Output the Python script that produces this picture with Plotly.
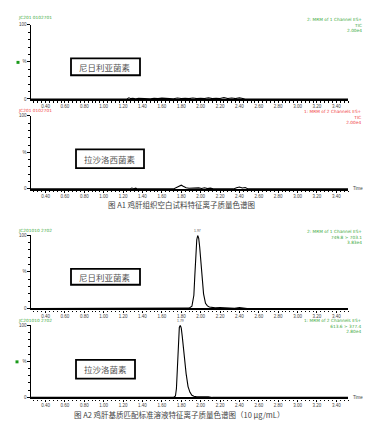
import plotly.graph_objects as go

W, H = 371, 428

# ---------------- data ----------------
tick_labels = ["0.40", "0.60", "0.80", "1.00", "1.20", "1.40", "1.60", "1.80", "2.00",
               "2.20", "2.40", "2.60", "2.80", "3.00", "3.20", "3.40"]

# Panel 1: blank, nigericin channel
t1 = [0.25, 1.24, 1.26, 1.28, 1.30, 1.33, 1.36, 1.40, 1.44, 1.48, 1.52, 1.56, 1.60, 1.64,
      1.68, 1.72, 1.76, 1.80, 1.84, 1.88, 1.92, 1.96, 2.00, 2.04, 2.08, 2.12, 2.16, 2.20,
      2.24, 2.28, 2.32, 2.36, 2.40, 2.44, 2.46, 3.52]
y1 = [0, 0, 1.5, 0.4, 1.0, 0.3, 0.8, 0.5, 1.2, 0.3, 0.9, 0.4, 1.1, 0.5, 0.8, 0.3, 1.3,
      0.6, 1.0, 0.4, 1.2, 0.5, 0.9, 0.6, 1.4, 0.5, 1.0, 0.7, 1.8, 0.6, 1.2, 0.5, 1.5,
      0.4, 0, 0]

# Panel 2: blank, lasalocid channel
t2 = [0.25, 1.27, 1.29, 1.31, 1.33, 1.35, 1.72, 1.75, 1.78, 1.80, 1.82, 1.85, 1.88, 1.92,
      1.95, 1.98, 2.01, 2.04, 2.07, 2.10, 2.13, 2.34, 2.37, 2.40, 2.43, 2.46, 2.49, 3.52]
y2 = [0, 0, 1.2, 0.3, 1.0, 0, 0, 2.0, 4.5, 5.0, 3.5, 1.5, 0.8, 1.2, 0.5, 1.4, 0.6, 1.5,
      0.4, 1.0, 0, 0, 1.5, 2.5, 1.2, 1.8, 0, 0]

# Panel 3: matrix standard, nigericin channel
t3 = [0.25, 1.28, 1.30, 1.33, 1.36, 1.40, 1.70, 1.74, 1.78, 1.82, 1.88, 1.91, 1.93, 1.94,
      1.95, 1.96, 1.97, 1.98, 1.99, 2.01, 2.03, 2.05, 2.07, 2.09, 2.12, 2.15, 2.20, 2.25,
      2.30, 2.35, 2.40, 2.45, 2.48, 3.52]
y3 = [0, 0, 1.0, 0.3, 0.8, 0, 0, 0.8, 0.3, 1.0, 0.5, 3, 18, 45, 75, 94, 100, 96, 84, 48,
      20, 7, 3.5, 2.0, 1.5, 0.8, 1.2, 0.6, 1.0, 0.4, 1.1, 0.3, 0, 0]

# Panel 4: matrix standard, lasalocid channel
t4 = [0.25, 1.72, 1.74, 1.75, 1.76, 1.77, 1.78, 1.79, 1.80, 1.81, 1.83, 1.85, 1.87, 1.89,
      1.91, 1.93, 1.96, 2.00, 2.04, 2.08, 2.12, 3.52]
y4 = [0, 0, 2, 12, 40, 75, 97, 100, 96, 85, 58, 33, 15, 7, 3, 1.5, 0.8, 1.0, 0.4, 0.8, 0, 0]

peak3_label, peak3_t = "1.97", 1.97
peak4_label, peak4_t = "1.79", 1.79

left_ids = ["JC201 0102701", "JC201 0102701", "JC201010 2702", "JC201010 2702"]
right_info = [
    ["2: MRM of 1 Channel ES+", "TIC", "2.00e4"],
    ["1: MRM of 2 Channels ES+", "TIC", "2.00e4"],
    ["2: MRM of 1 Channel ES+", "749.8 > 703.1", "3.83e4"],
    ["1: MRM of 2 Channels ES+", "613.6 > 377.4", "2.80e4"],
]
compounds = ["尼日利亚菌素", "拉沙洛西菌素", "尼日利亚菌素", "拉沙洛菌素"]
captions = ["图 A1 鸡肝组织空白试料特征离子质量色谱图",
            "图 A2 鸡肝基质匹配标准溶液特征离子质量色谱图（10 μg/mL）"]

# ---------------- layout helpers ----------------
def px(x):
    return x / W

def py(y):
    return 1 - y / H

GREEN = "#3aa83a"
RED = "#f04040"
colors = [GREEN, RED, GREEN, GREEN]
tops = [15, 107, 228, 319]
bottoms = [90, 181, 302, 392]
x_left, x_right = 23, 340
boxes = [(63, 49, 132, 66), (68, 141, 136, 160), (63, 262, 132, 278), (68, 354, 127, 373)]

fig = go.Figure()
series = [(t1, y1), (t2, y2), (t3, y3), (t4, y4)]
tickvals = [float(s) for s in tick_labels]

layout = dict(
    width=W, height=H, margin=dict(l=0, r=0, t=0, b=0),
    paper_bgcolor="white", plot_bgcolor="white", showlegend=False,
    font=dict(family="Liberation Sans, Arial", size=5, color="#333"),
)
for i, (t, y) in enumerate(series):
    n = "" if i == 0 else str(i + 1)
    fig.add_trace(go.Scatter(x=t, y=y, mode="lines", line=dict(color="black", width=1.1),
                             xaxis="x" + n, yaxis="y" + n, hoverinfo="skip"))
    layout["xaxis" + n] = dict(
        domain=[px(x_left), px(x_right)], range=[0.25, 3.52], anchor="y" + n,
        tickmode="array", tickvals=tickvals, ticktext=tick_labels,
        ticks="outside", ticklen=2, tickwidth=1, tickcolor="black",
        minor=dict(tickmode="linear", tick0=0.4, dtick=0.04, ticks="outside",
                   ticklen=1.5, tickcolor="black", showgrid=False),
        showline=True, linecolor="black", linewidth=2.2, showgrid=False, zeroline=False,
        tickfont=dict(size=4.5, color="#444"), fixedrange=True,
    )
    layout["yaxis" + n] = dict(
        domain=[py(bottoms[i]), py(tops[i])], range=[0, 100], anchor="x" + n,
        tickmode="array", tickvals=[0, 50, 100], ticktext=["0", "%", "100"],
        ticks="outside", ticklen=2.5, tickwidth=1, tickcolor="black",
        minor=dict(tickmode="linear", tick0=0, dtick=10, ticks="outside",
                   ticklen=1.5, tickcolor="black", showgrid=False),
        showline=True, linecolor="black", linewidth=1.3, showgrid=False, zeroline=False,
        tickfont=dict(size=4.5, color="#444"), fixedrange=True,
    )
fig.update_layout(**layout)

ann = []
shapes = []
right_top = [5.5, 98, 220, 310]
left_y = [8, 101.5, 223, 314]
HDR_FONT = "DejaVu Sans"
for i in range(4):
    ann.append(dict(x=px(8), y=py(left_y[i]), xref="paper", yref="paper", text=left_ids[i],
                    showarrow=False, xanchor="left", yanchor="middle",
                    font=dict(size=4.3, color=colors[i], family=HDR_FONT)))
    ann.append(dict(x=px(356), y=py(right_top[i]), xref="paper", yref="paper",
                    text="<br>".join(right_info[i]), align="right",
                    showarrow=False, xanchor="right", yanchor="top",
                    font=dict(size=4.3, color=colors[i], family=HDR_FONT)))
    x0, y0, x1, y1b = boxes[i]
    shapes.append(dict(type="rect", xref="paper", yref="paper", x0=px(x0), x1=px(x1),
                       y0=py(y1b), y1=py(y0), line=dict(color="black", width=1.8),
                       fillcolor="white", layer="above"))
    ann.append(dict(x=px((x0 + x1) / 2), y=py((y0 + y1b) / 2), xref="paper", yref="paper",
                    text=compounds[i], showarrow=False, xanchor="center", yanchor="middle",
                    font=dict(size=8.5, color="#555", family="Noto Sans CJK SC")))

# peak labels
ann.append(dict(x=peak3_t, y=100, xref="x3", yref="y3", text=peak3_label, showarrow=False,
                yanchor="bottom", yshift=0, font=dict(size=3.5, color="#555")))
ann.append(dict(x=peak4_t, y=100, xref="x4", yref="y4", text=peak4_label, showarrow=False,
                yanchor="bottom", yshift=0, font=dict(size=3.5, color="#555")))

# Time labels
for yy in (181, 392):
    ann.append(dict(x=px(343), y=py(yy), xref="paper", yref="paper", text="Time",
                    showarrow=False, xanchor="left", yanchor="middle",
                    font=dict(size=4.5, color="#444")))

# captions
ann.append(dict(x=px(173), y=py(197), xref="paper", yref="paper", text=captions[0],
                showarrow=False, xanchor="center", yanchor="middle",
                font=dict(size=7.5, color="#444", family="Noto Sans CJK SC")))
ann.append(dict(x=px(171), y=py(409), xref="paper", yref="paper", text=captions[1],
                showarrow=False, xanchor="center", yanchor="middle",
                font=dict(size=7.5, color="#444", family="Noto Sans CJK SC")))

# green markers
for (gx, gy) in [(10, 53), (9, 356)]:
    shapes.append(dict(type="rect", xref="paper", yref="paper", x0=px(gx - 1.5), x1=px(gx + 1.5),
                       y0=py(gy + 1.5), y1=py(gy - 1.5), line=dict(width=0), fillcolor="#1a9a1a"))

fig.update_layout(annotations=ann, shapes=shapes)
fig.write_html("out.html")
